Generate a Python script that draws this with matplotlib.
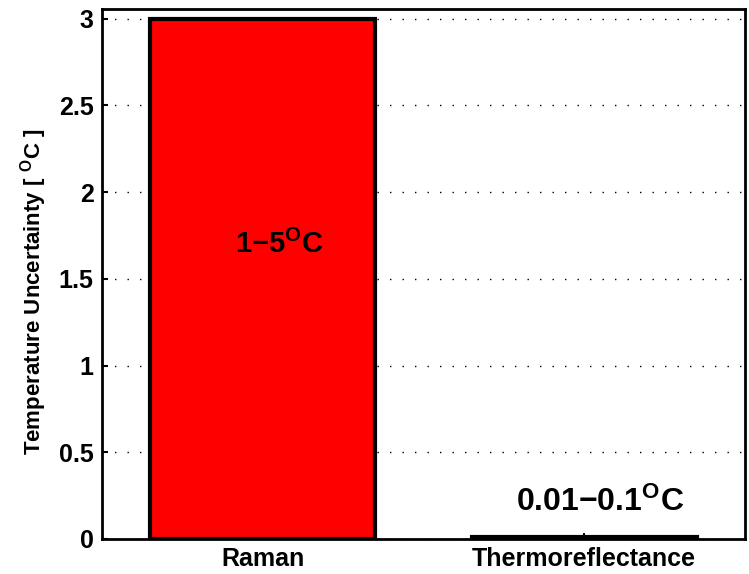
import matplotlib.pyplot as plt
import numpy as np

methods = ["Raman", "Thermoreflectance"]
uncertainty = [3.0, 0.01]
range_labels = [r"1−5$^{\mathsf{O}}$C", r"0.01−0.1$^{\mathsf{O}}$C"]
label_y = [1.7, 0.21]
label_size = [21, 23]
bar_colors = ["#ff0000", "#ff0000"]

plt.rcParams["font.family"] = ["Liberation Sans", "DejaVu Sans"]
plt.rcParams["font.weight"] = "bold"
plt.rcParams["mathtext.fontset"] = "custom"
plt.rcParams["mathtext.rm"] = "Liberation Sans:bold"
plt.rcParams["mathtext.bf"] = "Liberation Sans:bold"
plt.rcParams["mathtext.sf"] = "Liberation Sans:bold"
plt.rcParams["mathtext.default"] = "regular"

fig = plt.figure(figsize=(7.49, 5.74), dpi=100)
ax = fig.add_axes([102 / 749, (574 - 539) / 574, (745 - 102) / 749, (539 - 9) / 574])

x = np.arange(1, len(methods) + 1)
ax.bar(x, uncertainty, width=0.7, color=bar_colors, edgecolor="black", linewidth=3, zorder=3)

for xi, lab, ly, fs in zip(x, range_labels, label_y, label_size):
    ax.text(xi + 0.05, ly, lab, ha="center", va="center", fontsize=fs, fontweight="bold", zorder=4)

ax.set_xlim(0.5, 2.5)
ax.set_ylim(0, 3.055)
ax.set_xticks(x)
ax.set_xticklabels(methods, fontsize=18, fontweight="bold")
ax.set_yticks([0, 0.5, 1, 1.5, 2, 2.5, 3])
ax.set_yticklabels(["0", "0.5", "1", "1.5", "2", "2.5", "3"], fontsize=18, fontweight="bold")
ax.tick_params(direction="in", length=4, width=1.5, pad=6)
ax.yaxis.grid(True, linestyle=(0, (1, 8)), color="black", linewidth=1)
ax.set_axisbelow(True)
for s in ax.spines.values():
    s.set_linewidth(2)

ax.set_ylabel(r"Temperature Uncertainty [ $^{\mathsf{O}}$C ]", fontsize=16, fontweight="bold")
ax.yaxis.set_label_coords(-0.083, 0.466)

fig.savefig("out.png", dpi=100)
